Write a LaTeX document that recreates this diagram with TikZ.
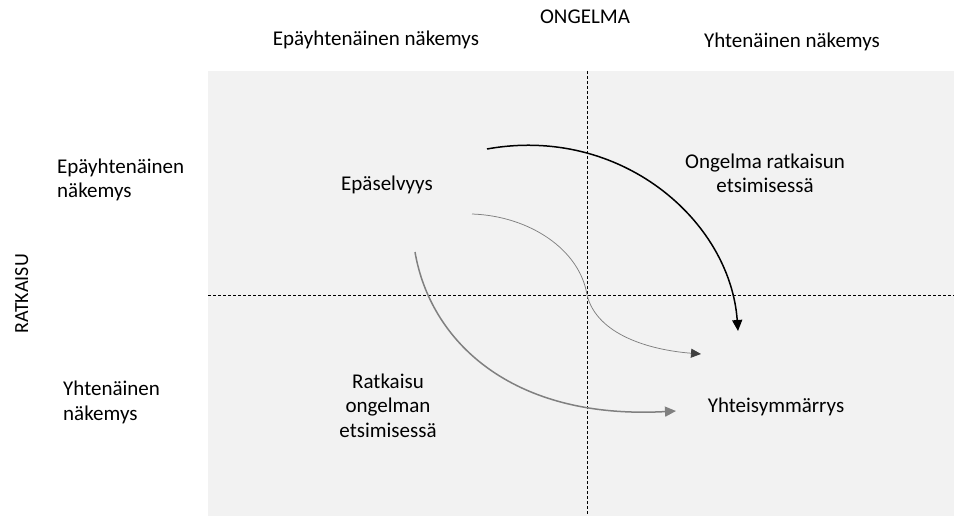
\documentclass[tikz,border=0pt]{standalone}
\usepackage{fontspec}
\setmainfont{Carlito}
\usetikzlibrary{arrows.meta}
\definecolor{bgfill}{HTML}{F2F2F2}
\definecolor{midgray}{HTML}{808080}
\definecolor{darkgray}{HTML}{404040}
\begin{document}
\begin{tikzpicture}[x=1pt,y=-1pt,
  lbl/.style={font=\fontsize{21}{24.5}\selectfont, inner sep=0pt, align=center, anchor=base},
  lbll/.style={font=\fontsize{21}{24.5}\selectfont, inner sep=0pt, align=left, anchor=base west},
  axisline/.style={draw=black, line width=0.75pt, dash pattern=on 3pt off 2pt},
  blackarrow/.style={draw=black, line width=1.5pt, -{Triangle[length=11pt,width=10pt]}},
  grayarrow/.style={draw=midgray, line width=1.5pt, -{Triangle[length=11pt,width=10pt]}},
  thinarrow/.style={draw=midgray, line width=0.75pt, -{Triangle[length=10pt,width=9pt,fill=darkgray,color=darkgray]}}
]
\useasboundingbox (0,0) rectangle (954,516);
\fill[bgfill] (208,71) rectangle (954,516);
% axes
\coordinate (vtop) at (587,71);
\coordinate (vbot) at (587,516);
\coordinate (hleft) at (208,295);
\coordinate (hright) at (954,295);
\draw[axisline] (vtop) -- (vbot);
\draw[axisline] (hleft) -- (hright);
% texts
\node[lbl] (ongelma) at (585,24) {ONGELMA};
\node[lbl] (topleft) at (376,46) {Epäyhtenäinen näkemys};
\node[lbl] (topright) at (792,48) {Yhtenäinen näkemys};
\node[lbll] (leftup) at (57,198) {Epäyhtenäinen\\näkemys};
\node[lbll] (leftdown) at (63,420) {Yhtenäinen\\näkemys};
\node[font=\fontsize{20}{24}\selectfont, inner sep=0pt, rotate=90, anchor=base] (ratkaisu) at (28,294) {RATKAISU};
\node[lbl] (epaselvyys) at (387,191) {Epäselvyys};
\node[lbl] (ongelmar) at (765,193) {Ongelma ratkaisun\\etsimisessä};
\node[lbl] (ratkaisuo) at (388,437) {Ratkaisu\\ongelman\\etsimisessä};
\node[lbl] (yhteis) at (776,412) {Yhteisymmärrys};
% arrows
\coordinate (a1s) at (487,149);
\coordinate (a1e) at (738,331);
\coordinate (a2s) at (472,214);
\coordinate (a2m) at (587,295);
\coordinate (a2e) at (701,354);
\coordinate (a3s) at (415,252);
\coordinate (a3e) at (676,411);
\draw[blackarrow] (a1s) .. controls (620,125) and (730,220) .. (a1e);
\draw[thinarrow] (a2s) .. controls (530,216) and (580,250) .. (a2m) .. controls (597,335) and (650,350) .. (a2e);
\draw[grayarrow] (a3s) .. controls (430,340) and (510,420) .. (a3e);
\end{tikzpicture}
\end{document}
